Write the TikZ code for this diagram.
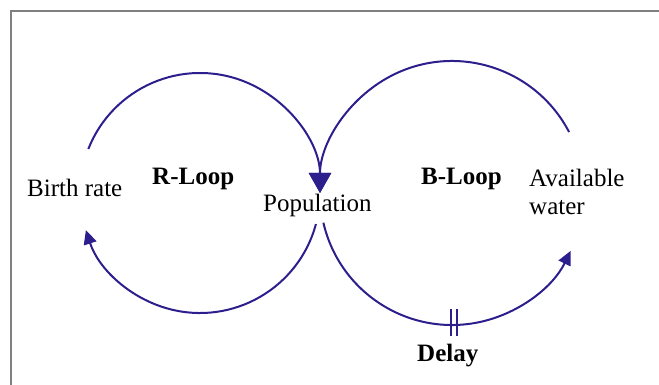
\documentclass[tikz,border=0pt]{standalone}
\usepackage{fontspec}
\setmainfont{Liberation Serif}
\usetikzlibrary{arrows.meta}
\definecolor{loopblue}{RGB}{44,30,140}
\definecolor{framegray}{RGB}{128,128,128}
\begin{document}
\begin{tikzpicture}[x=1pt,y=1pt,
  label/.style={inner sep=0pt,anchor=base west,font=\fontsize{25}{28}\selectfont},
  boldlabel/.style={label,font=\fontsize{25}{28}\selectfont\bfseries},
  link/.style={draw=loopblue,line width=2pt},
  bigtip/.style={-{Triangle[length=20pt,width=22pt]}},
  smalltip/.style={-{Triangle[length=14pt,width=13pt]}}]
  \useasboundingbox (0,0) rectangle (659,385);
  % frame (top and left edges)
  \draw[framegray,line width=2pt] (11,0) -- (11,374) -- (659,374);

  % loop centres
  \coordinate (rc) at (200,192);
  \coordinate (bc) at (452,192);

  % labels
  \node[label] (birth) at (27,188) {Birth rate};
  \node[boldlabel] (rloop) at (152,200) {R-Loop};
  \node[label] (pop) at (263,173) {Population};
  \node[boldlabel] (bloop) at (421,200) {B-Loop};
  \node[label,align=left] (water) at (529,170) {Available\\water};
  \node[boldlabel] (delay) at (417,23) {Delay};

  % reinforcing loop
  \draw[link,bigtip] ([shift={(158.5:120)}]rc) arc[start angle=158.5,end angle=0,radius=120];
  \draw[link,smalltip] ([shift={(-15:120)}]rc) arc[start angle=-15,end angle=-162,radius=120];

  % balancing loop
  \draw[link,bigtip] ([shift={(27.5:132)}]bc) arc[start angle=27.5,end angle=180,radius=132];
  \draw[link,smalltip] ([shift={(193:132)}]bc) arc[start angle=193,end angle=334,radius=132];

  % delay marks
  \coordinate (dly) at (454,60);
  \draw[loopblue,line width=1.6pt] ([xshift=-3pt,yshift=-11pt]dly) -- ++(0,27);
  \draw[loopblue,line width=1.6pt] ([xshift=3pt,yshift=-11pt]dly) -- ++(0,27);
\end{tikzpicture}
\end{document}
